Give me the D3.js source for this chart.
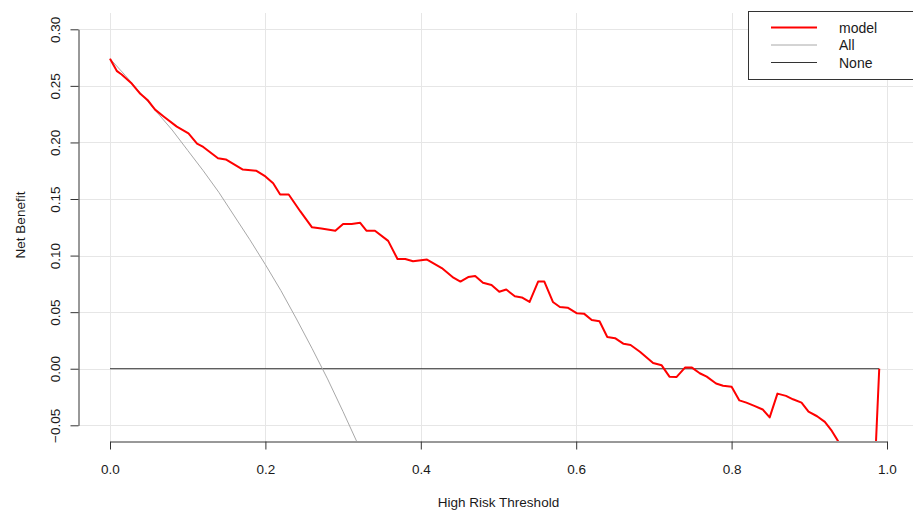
<!DOCTYPE html>
<html>
<head>
<meta charset="utf-8">
<script src="https://cdn.jsdelivr.net/npm/d3@7"></script>
<style>
  body { margin: 0; background: #fff; }
  text { font-family: "Liberation Sans", Arial, sans-serif; fill: #1a1a1a; }
</style>
</head>
<body>
<svg id="dca"></svg>
<script>
// data
var modelX = [0, 0.009, 0.015, 0.028, 0.039, 0.049, 0.058, 0.069, 0.086, 0.101,
  0.112, 0.12, 0.139, 0.149, 0.171, 0.188, 0.2, 0.21, 0.219, 0.23,
  0.245, 0.26, 0.272, 0.29, 0.3, 0.311, 0.322, 0.33, 0.341, 0.358,
  0.37, 0.38, 0.39, 0.408, 0.427, 0.442, 0.451, 0.461, 0.47, 0.48,
  0.491, 0.501, 0.51, 0.521, 0.53, 0.54, 0.551, 0.559, 0.57, 0.579,
  0.589, 0.601, 0.61, 0.62, 0.63, 0.64, 0.65, 0.661, 0.67, 0.682,
  0.699, 0.71, 0.72, 0.729, 0.74, 0.749, 0.759, 0.768, 0.78, 0.789,
  0.8, 0.81, 0.819, 0.83, 0.84, 0.849, 0.859, 0.87, 0.879, 0.89,
  0.899, 0.91, 0.92, 0.929, 0.937, 0.95, 0.97, 0.98, 0.99];
var modelY = [0.274, 0.263, 0.26, 0.252, 0.243, 0.237, 0.229, 0.223, 0.214, 0.208,
  0.199, 0.196, 0.186, 0.185, 0.176, 0.175, 0.17, 0.164, 0.154, 0.154,
  0.139, 0.125, 0.124, 0.122, 0.128, 0.128, 0.129, 0.122, 0.122, 0.113,
  0.097, 0.097, 0.095, 0.0965, 0.089, 0.0805, 0.077, 0.081, 0.082, 0.076,
  0.074, 0.068, 0.070, 0.064, 0.063, 0.059, 0.077, 0.077, 0.059, 0.0545,
  0.054, 0.049, 0.0487, 0.043, 0.042, 0.028, 0.027, 0.022, 0.021, 0.015,
  0.005, 0.003, -0.007, -0.0074, 0.001, 0.001, -0.004, -0.007, -0.013, -0.015,
  -0.016, -0.028, -0.030, -0.033, -0.036, -0.043, -0.022, -0.024, -0.027, -0.030,
  -0.038, -0.042, -0.047, -0.055, -0.064, -0.085, -0.12, -0.155, 0];

var allX = [0, 0.02, 0.04, 0.06, 0.08, 0.1, 0.12, 0.14, 0.16, 0.18,
  0.2, 0.22, 0.24, 0.26, 0.28, 0.3, 0.32, 0.34];
var allY = [0.274, 0.259, 0.243, 0.227, 0.211, 0.193, 0.175, 0.156, 0.135, 0.114,
  0.092, 0.069, 0.044, 0.018, -0.009, -0.038, -0.068, -0.100];

var noneX = [0, 0.99];
var noneY = [0, 0];

var xTicks = [0, 0.2, 0.4, 0.6, 0.8, 1.0];
var yTicks = [-0.05, 0, 0.05, 0.10, 0.15, 0.20, 0.25, 0.30];

var legendNames = ["model", "All", "None"];
var legendColors = ["#ff0000", "#a8a8a8", "#333333"];
var legendWidths = [2, 1, 1];

// page and plot region
var width = 913, height = 511;
var plot = {left: 78, right: 918, top: 13, bottom: 441};

var svg = d3.select("#dca")
    .attr("width", width)
    .attr("height", height);

var x = d3.scaleLinear().domain([0, 1]).range([110, 887]);
var y = d3.scaleLinear().domain([-0.05, 0.30]).range([425.3, 29.3]);

svg.append("defs").append("clipPath")
    .attr("id", "plotclip")
  .append("rect")
    .attr("x", plot.left)
    .attr("y", plot.top)
    .attr("width", plot.right - plot.left)
    .attr("height", plot.bottom - plot.top);

// grid
var grid = svg.append("g").attr("stroke", "#e6e6e6").attr("stroke-width", 1);
grid.selectAll(".vgrid")
    .data(xTicks)
  .enter().append("line")
    .attr("x1", function(d) { return Math.round(x(d)) + 0.5; })
    .attr("x2", function(d) { return Math.round(x(d)) + 0.5; })
    .attr("y1", plot.top)
    .attr("y2", plot.bottom);
grid.selectAll(".hgrid")
    .data(yTicks)
  .enter().append("line")
    .attr("y1", function(d) { return Math.round(y(d)) + 0.5; })
    .attr("y2", function(d) { return Math.round(y(d)) + 0.5; })
    .attr("x1", plot.left)
    .attr("x2", plot.right);

// curves
var line = d3.line()
    .x(function(d) { return x(d[0]); })
    .y(function(d) { return y(d[1]); });

var curves = svg.append("g").attr("clip-path", "url(#plotclip)");

curves.append("path")
    .datum(d3.zip(noneX, noneY))
    .attr("fill", "none")
    .attr("stroke", legendColors[2])
    .attr("stroke-width", 1)
    .attr("d", line);

curves.append("path")
    .datum(d3.zip(allX, allY))
    .attr("fill", "none")
    .attr("stroke", legendColors[1])
    .attr("stroke-width", 1)
    .attr("d", line);

curves.append("path")
    .datum(d3.zip(modelX, modelY))
    .attr("fill", "none")
    .attr("stroke", legendColors[0])
    .attr("stroke-width", 2)
    .attr("stroke-linejoin", "round")
    .attr("d", line);

// x axis
var xAxis = svg.append("g")
    .attr("transform", "translate(0," + (plot.bottom + 0.5) + ")")
    .call(d3.axisBottom(x).tickValues(xTicks).tickSizeInner(8).tickSizeOuter(0)
      .tickFormat(d3.format(".1f")));
xAxis.select(".domain").attr("stroke", "#333");
xAxis.selectAll(".tick line").attr("stroke", "#333");
xAxis.selectAll(".tick text")
    .attr("dy", 0).attr("y", 32)
    .style("font-size", "13.5px")
    .style("font-family", "'Liberation Sans', Arial, sans-serif")
    .attr("fill", "#1a1a1a");

// y axis
var yAxis = svg.append("g")
    .attr("transform", "translate(" + (plot.left + 0.5) + ",0)")
    .call(d3.axisLeft(y).tickValues(yTicks).tickSizeInner(8).tickSizeOuter(0)
      .tickFormat(d3.format(".2f")));
yAxis.select(".domain").attr("stroke", "#333");
yAxis.selectAll(".tick line").attr("stroke", "#333");
yAxis.selectAll(".tick text")
    .attr("x", 0).attr("dy", 0)
    .attr("text-anchor", "middle")
    .attr("transform", "translate(-19,0) rotate(-90)")
    .style("font-size", "13.5px")
    .style("font-family", "'Liberation Sans', Arial, sans-serif")
    .attr("fill", "#1a1a1a");

// axis titles
svg.append("text")
    .attr("x", (x(0) + x(1)) / 2)
    .attr("y", 507)
    .attr("text-anchor", "middle")
    .style("font-size", "13.5px")
    .text("High Risk Threshold");

svg.append("text")
    .attr("transform", "translate(25," + 225 + ") rotate(-90)")
    .attr("text-anchor", "middle")
    .style("font-size", "13.5px")
    .text("Net Benefit");

// legend
var legend = svg.append("g");
legend.append("rect")
    .attr("x", 748.5)
    .attr("y", 11.5)
    .attr("width", 200)
    .attr("height", 68)
    .attr("fill", "#fff")
    .attr("stroke", "#333");

var items = legend.selectAll(".item")
    .data(legendNames)
  .enter().append("g")
    .attr("transform", function(d, i) { return "translate(0," + (27.5 + i * 17.5) + ")"; });
items.append("line")
    .attr("x1", 771).attr("x2", 817)
    .attr("stroke", function(d, i) { return legendColors[i]; })
    .attr("stroke-width", function(d, i) { return legendWidths[i]; });
items.append("text")
    .attr("x", 839)
    .attr("y", 5)
    .style("font-size", "14px")
    .text(function(d) { return d; });
</script>
</body>
</html>
